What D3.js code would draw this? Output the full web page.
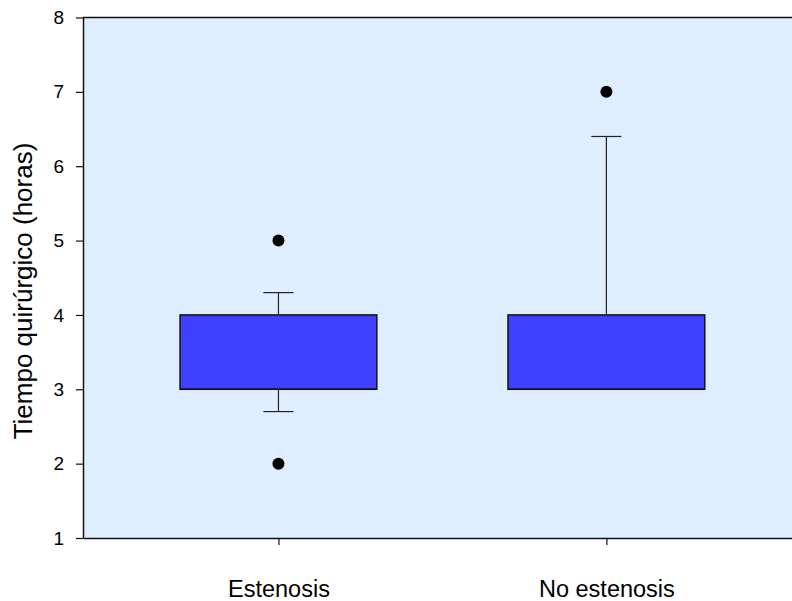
<!DOCTYPE html>
<html>
<head>
<meta charset="utf-8">
<script src="https://cdn.jsdelivr.net/npm/d3@7"></script>
<style>
  body { margin: 0; background: #fff; }
  text { font-family: "Liberation Sans", Arial, sans-serif; }
</style>
</head>
<body>
<svg id="chart" width="792" height="601"></svg>
<script>
// data
const categories = ['Estenosis', 'No estenosis'];
const q1 = [3, 3];
const median = [3, 3];
const q3 = [4, 4];
const whiskerLow = [2.7, 3];
const whiskerHigh = [4.3, 6.4];
const outliers = [[5, 2], [7]];
const yTicks = [1, 2, 3, 4, 5, 6, 7, 8];

const svg = d3.select('#chart');
const plot = { left: 83, top: 17.5, right: 792, bottom: 538 };

const x = d3.scaleLinear().domain([0.404, 2.566]).range([plot.left, plot.right]);
const y = d3.scaleLinear().domain([1, 8]).range([plot.bottom, plot.top]);

svg.append('rect')
  .attr('x', plot.left)
  .attr('y', plot.top)
  .attr('width', plot.right - plot.left)
  .attr('height', plot.bottom - plot.top)
  .attr('fill', '#deeeff');

const boxes = categories.map((name, i) => ({
  name,
  pos: i + 1,
  q1: q1[i],
  median: median[i],
  q3: q3[i],
  lo: whiskerLow[i],
  hi: whiskerHigh[i],
  out: outliers[i],
}));

const halfBox = 0.3;
const halfCap = 0.046;

const g = svg.append('g');

// whiskers
boxes.forEach((d) => {
  [[d.q3, d.hi], [d.q1, d.lo]].forEach(([from, to]) => {
    if (from === to) return;
    g.append('line')
      .attr('x1', x(d.pos)).attr('x2', x(d.pos))
      .attr('y1', y(from)).attr('y2', y(to))
      .attr('stroke', '#222').attr('stroke-width', 1.2);
    g.append('line')
      .attr('x1', x(d.pos - halfCap)).attr('x2', x(d.pos + halfCap))
      .attr('y1', y(to)).attr('y2', y(to))
      .attr('stroke', '#222').attr('stroke-width', 1.2);
  });
});

g.selectAll('rect.box')
  .data(boxes)
  .enter()
  .append('rect')
  .attr('class', 'box')
  .attr('x', (d) => x(d.pos - halfBox))
  .attr('y', (d) => y(d.q3))
  .attr('width', (d) => x(d.pos + halfBox) - x(d.pos - halfBox))
  .attr('height', (d) => y(d.q1) - y(d.q3))
  .attr('fill', '#4040ff')
  .attr('stroke', '#111')
  .attr('stroke-width', 1.5);

g.selectAll('line.median')
  .data(boxes)
  .enter()
  .append('line')
  .attr('class', 'median')
  .attr('x1', (d) => x(d.pos - halfBox))
  .attr('x2', (d) => x(d.pos + halfBox))
  .attr('y1', (d) => y(d.median))
  .attr('y2', (d) => y(d.median))
  .attr('stroke', '#111')
  .attr('stroke-width', 1.5);

const pts = [];
boxes.forEach((d) => d.out.forEach((v) => pts.push({ pos: d.pos, v })));
g.selectAll('circle.out')
  .data(pts)
  .enter()
  .append('circle')
  .attr('class', 'out')
  .attr('cx', (d) => x(d.pos))
  .attr('cy', (d) => y(d.v))
  .attr('r', 6)
  .attr('fill', '#000');

// axes
const yAxis = svg.append('g')
  .attr('transform', `translate(${plot.left},0)`)
  .call(d3.axisLeft(y).tickValues(yTicks).tickFormat(d3.format('d'))
    .tickSize(7).tickSizeOuter(0).tickPadding(12));
yAxis.select('.domain').attr('stroke', '#111').attr('stroke-width', 1.5);
yAxis.selectAll('.tick line').attr('stroke', '#111').attr('stroke-width', 1.2);
yAxis.selectAll('.tick text').attr('font-size', 19).attr('fill', '#000');

const xAxis = svg.append('g')
  .attr('transform', `translate(0,${plot.bottom})`)
  .call(d3.axisBottom(x).tickValues([1, 2]).tickSize(7).tickSizeOuter(0)
    .tickFormat((d) => categories[d - 1]).tickPadding(35));
xAxis.select('.domain').attr('stroke', '#111').attr('stroke-width', 1.5);
xAxis.selectAll('.tick line').attr('stroke', '#111').attr('stroke-width', 1.2);
xAxis.selectAll('.tick text').attr('font-size', 23.5).attr('fill', '#000');

svg.append('line')
  .attr('x1', plot.left).attr('x2', plot.right)
  .attr('y1', plot.top).attr('y2', plot.top)
  .attr('stroke', '#111').attr('stroke-width', 1.5);

svg.append('text')
  .attr('transform', 'translate(32,291) rotate(-90)')
  .attr('text-anchor', 'middle')
  .attr('font-size', 26)
  .text('Tiempo quirúrgico (horas)');
</script>
</body>
</html>
